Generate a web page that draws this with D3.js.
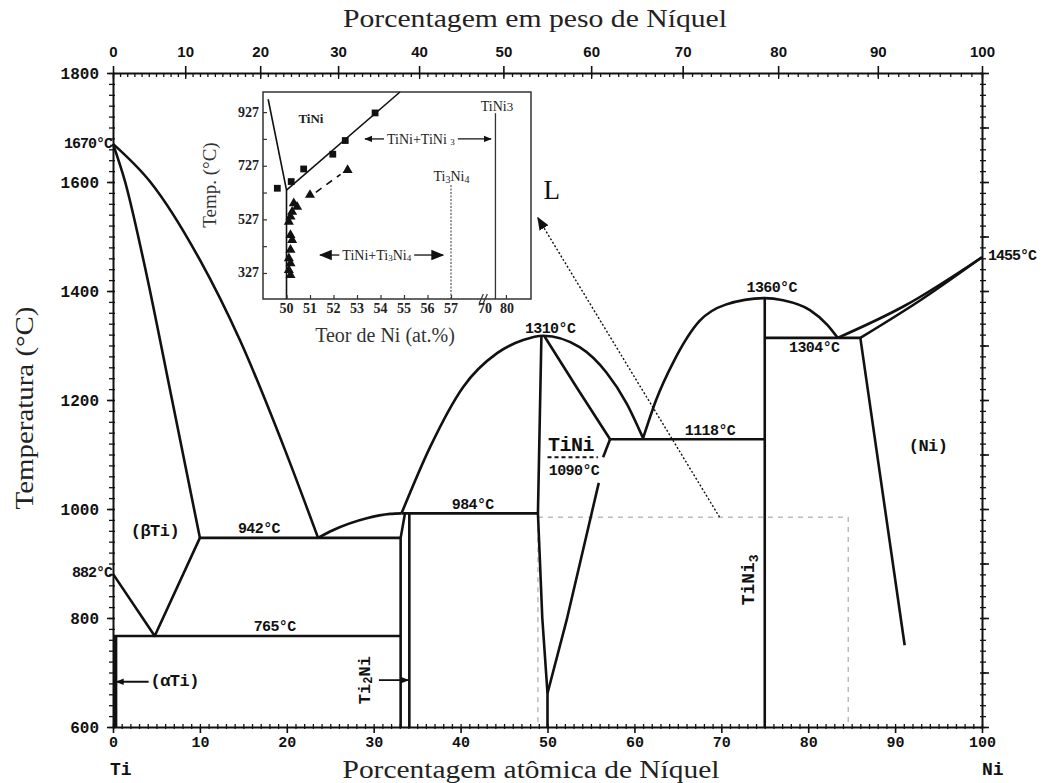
<!DOCTYPE html>
<html>
<head>
<meta charset="utf-8">
<script src="https://cdn.jsdelivr.net/npm/d3@7"></script>
<style>
body { margin: 0; background: #fff; }
svg { display: block; }
</style>
</head>
<body>
<div id="chart"></div>
<script>
"use strict";

// ---- phase boundaries, points are [at.% Ni, temperature degC] ----
var liqTi = [[0,1670],[4.3,1600],[10,1457],[14.6,1310],[19.8,1108],[23.6,947]];
var solBeta = [[0,1670],[1.4,1600],[3.5,1457],[6.8,1200],[10,947]];
var transus = [[0,881],[4.8,767],[10,947]];
var eut942 = [[10,947],[33.1,947]];
var eutd765 = [[0,767],[33.1,767]];
var alphaTi = [[0.3,767],[0.3,600]];
var liqTi2Ni = [[23.6,947],[25.3,961],[29.2,983],[31.9,991],[33.2,992]];
var ti2NiLeft = [[33.1,600],[33.1,947],[33.6,992]];
var ti2NiRight = [[34.1,600],[34.1,992]];
var per984 = [[33.2,992],[48.9,992]];
// TiNi liquidus dome, both branches
var liqTiNi = [[33.2,992],[36.5,1114],[40.3,1224],[44.2,1286],[47.2,1310],[49.5,1318],
	[53.7,1297],[56.8,1250],[59.1,1194],[61,1130]];
var solTiNiR = [[49.6,1318],[53.4,1222],[57.2,1128]];
var solvTiNiR1 = [[57.2,1128],[56.4,1095]];
var solvTiNiR2 = [[55.9,1048],[52.2,796],[50,662]];
var solvTiNiL = [[49.3,1318],[48.9,992],[49.4,800],[50,662],[50,600]];
var eut1118 = [[57.2,1128],[75,1128]];
// TiNi3 liquidus dome
var liqTiNi3 = [[61,1130],[62.5,1200],[64.5,1270],[67.5,1345],[70.5,1375],[75,1387],
	[77.1,1383],[80.2,1365],[82.2,1338],[83.4,1314]];
var tiNi3Line = [[75,1387],[75,600]];
var per1304 = [[75,1314],[86,1314]];
var solvNi = [[86,1314],[91.1,750]];
var liqNi = [[83.4,1314],[91,1372],[100,1462]];
var solNi = [[86,1314],[93,1384],[100,1462]];
var tiNiOrder = [[50,1095],[55.8,1095]];
var boxDash = [[48.9,985],[84.6,985],[84.6,600]];
var boxDashL = [[48.9,985],[48.9,600]];
var zoomArrow = [[69.8,985],[48.9,1534]];

var smoothLines = [liqTi, solBeta, liqTi2Ni, liqTiNi, solTiNiR, liqTiNi3, liqNi, solNi];
var straightLines = [transus, eut942, eutd765, ti2NiLeft, ti2NiRight, per984, solvTiNiR1,
	solvTiNiR2, solvTiNiL, eut1118, tiNi3Line, per1304, solvNi];

// ---- axis ticks ----
var atMajor = d3.range(0, 101, 10);
var atMinor = d3.range(0, 101, 1);
var wtMajor = d3.range(0, 101, 10);
var wtMinor = d3.range(0, 101, 1);
var tMajor = d3.range(600, 1801, 200);
var tMid = d3.range(600, 1801, 100);
var tMinor = d3.range(600, 1801, 20);

// ---- labels, [text, at.% Ni, degC] ----
var tempLabels = [
	["942°C", 16.8, 963], ["765°C", 18.6, 783], ["984°C", 41.4, 1006],
	["1310°C", 50.3, 1330], ["1090°C", 53.05, 1068], ["1118°C", 68.7, 1143],
	["1360°C", 75.8, 1405], ["1304°C", 80.7, 1295]
];
var phaseLabels = [["(βTi)", 4.83, 958], ["(Ni)", 93.8, 1114], ["(αTi)", 7.1, 683]];
var sideLabels = [["1670°C", 1668], ["882°C", 881]];

// ---- inset (TiNi detail) ----
var inXTicks = [50, 51, 52, 53, 54, 55, 56, 57, 70, 80];
var inYTicks = [327, 527, 727, 927];
var inYMinor = d3.range(327, 928, 100);
var inBound = [[49.22,975],[50,636],[50,230]];
var inSolvus = [[50,636],[54.83,1002]];
var inDash = [[51.25,628],[52.3,695]];
var inTi3Ni4 = [[57,230],[57,655]];
var inTiNi3 = [[75,230],[75,923]];
var squares = [[49.61,643],[50.2,668],[50.73,715],[51.97,770],[52.5,821],[53.77,924]];
var triangles = [[52.6,711],[51.0,618],[50.31,587],[50.45,574],[50.24,555],[50.17,537],[50.1,518],
	[50.17,468],[50.24,450],[50.17,413],[50.1,382],[50.17,363],[50.1,338],[50.17,319]];

var W = 1051, H = 783;
var ink = "#111";
var mono = "'Liberation Mono', 'DejaVu Sans Mono', monospace";
var serif = "'Liberation Serif', 'DejaVu Serif', serif";

var x = d3.scaleLinear().domain([0, 100]).range([113, 982]);
var y = d3.scaleLinear().domain([600, 1800]).range([727, 73]);
// inset has a broken x axis (57 // 70)
var ix = d3.scaleLinear().domain([49, 57, 70, 92]).range([263, 451, 485, 531]);
var iy = d3.scaleLinear().domain([230, 1002]).range([299, 92]);

// weight % -> atomic % Ni (Ti 47.87, Ni 58.69)
function wt2at(w) {
	var a = w / 58.69, b = (100 - w) / 47.87;
	return 100 * a / (a + b);
}

var svg = d3.select("#chart").append("svg").attr("width", W).attr("height", H);
svg.append("rect").attr("width", W).attr("height", H).attr("fill", "#fff");

var defs = svg.append("defs");
function marker(id, size) {
	defs.append("marker").attr("id", id)
		.attr("viewBox", "0 0 10 10").attr("refX", 9).attr("refY", 5)
		.attr("markerWidth", size).attr("markerHeight", size)
		.attr("markerUnits", "userSpaceOnUse").attr("orient", "auto")
		.append("path").attr("d", "M0,1L10,5L0,9z").attr("fill", ink);
}
marker("ah", 8);
marker("ahBig", 13);

var lineS = d3.line().x(d => x(d[0])).y(d => y(d[1]));
var lineC = d3.line().curve(d3.curveMonotoneX).x(d => x(d[0])).y(d => y(d[1]));

// light dashed frame around the zoomed region + dotted pointer
svg.append("path").attr("d", lineS(boxDash)).attr("fill", "none")
	.attr("stroke", "#999").attr("stroke-width", 1).attr("stroke-dasharray", "5,5");
svg.append("path").attr("d", lineS(boxDashL)).attr("fill", "none")
	.attr("stroke", "#999").attr("stroke-width", 1).attr("stroke-dasharray", "5,5");
svg.append("path").attr("d", lineS(zoomArrow)).attr("fill", "none")
	.attr("stroke", ink).attr("stroke-width", 1.4).attr("stroke-dasharray", "2,2")
	.attr("marker-end", "url(#ahBig)");

var phase = svg.append("g").attr("fill", "none").attr("stroke", ink)
	.attr("stroke-width", 2.6).attr("stroke-linejoin", "round");
phase.selectAll(".c").data(smoothLines).enter().append("path").attr("d", lineC);
phase.selectAll(".s").data(straightLines).enter().append("path").attr("d", lineS);
phase.append("path").attr("d", lineS(alphaTi)).attr("stroke-width", 3.5);
phase.append("path").attr("d", lineS(tiNiOrder)).attr("stroke-width", 2).attr("stroke-dasharray", "4,3");

// ---- axes ----
function styleAxis(g, size, family) {
	g.attr("font-family", family || mono).attr("font-weight", "bold").attr("font-size", size);
	g.selectAll("line").attr("stroke", ink).attr("stroke-width", 1.6);
	g.selectAll(".domain").attr("stroke", ink).attr("stroke-width", 2);
	g.selectAll("text").attr("fill", ink).attr("font-weight", "bold");
}
function ticksOnly(g) {
	g.select(".domain").remove();
	g.selectAll("line").attr("stroke", ink).attr("stroke-width", 1.3);
}

var gB = svg.append("g").attr("transform", "translate(0," + y(600) + ")")
	.call(d3.axisBottom(x).tickValues(atMajor).tickSize(6).tickSizeOuter(0).tickPadding(3)
		.tickFormat(d3.format("d")));
styleAxis(gB, 15);
svg.append("g").attr("transform", "translate(0," + y(600) + ")")
	.call(d3.axisTop(x).tickValues(atMinor).tickSize(3).tickFormat("")).call(ticksOnly);
svg.append("g").attr("transform", "translate(0," + y(600) + ")")
	.call(d3.axisBottom(x).tickValues(atMinor).tickSize(2).tickFormat("")).call(ticksOnly);

var gT = svg.append("g").attr("transform", "translate(0," + y(1800) + ")")
	.call(d3.axisTop(x).tickValues(wtMajor.map(wt2at)).tickSize(7).tickSizeOuter(0).tickPadding(9)
		.tickFormat((d, i) => wtMajor[i]));
styleAxis(gT, 15, "'Liberation Sans', Arial, sans-serif");
svg.append("g").attr("transform", "translate(0," + y(1800) + ")")
	.call(d3.axisBottom(x).tickValues(wtMajor.map(wt2at)).tickSize(6).tickFormat("")).call(ticksOnly);
svg.append("g").attr("transform", "translate(0," + y(1800) + ")")
	.call(d3.axisBottom(x).tickValues(wtMinor.map(wt2at)).tickSize(4).tickFormat("")).call(ticksOnly);

var gL = svg.append("g").attr("transform", "translate(" + x(0) + ",0)")
	.call(d3.axisLeft(y).tickValues(tMajor).tickSize(6).tickSizeOuter(0).tickPadding(8)
		.tickFormat(d3.format("d")));
styleAxis(gL, 16);
svg.append("g").attr("transform", "translate(" + x(0) + ",0)")
	.call(d3.axisLeft(y).tickValues(tMinor).tickSize(4).tickFormat("")).call(ticksOnly);
svg.append("g").attr("transform", "translate(" + x(0) + ",0)")
	.call(d3.axisRight(y).tickValues(tMinor).tickSize(2).tickFormat("")).call(ticksOnly);

var gR = svg.append("g").attr("transform", "translate(" + x(100) + ",0)")
	.call(d3.axisRight(y).tickValues(tMid).tickSize(7).tickSizeOuter(0).tickFormat(""));
styleAxis(gR, 16);
svg.append("g").attr("transform", "translate(" + x(100) + ",0)")
	.call(d3.axisRight(y).tickValues(tMinor).tickSize(4).tickFormat("")).call(ticksOnly);
svg.append("g").attr("transform", "translate(" + x(100) + ",0)")
	.call(d3.axisLeft(y).tickValues(tMinor).tickSize(2).tickFormat("")).call(ticksOnly);

// axis titles
svg.append("text").attr("x", 535).attr("y", 27).attr("text-anchor", "middle")
	.attr("font-family", serif).attr("font-size", 26).attr("fill", "#222")
	.attr("textLength", 384).attr("lengthAdjust", "spacingAndGlyphs")
	.text("Porcentagem em peso de Níquel");
svg.append("text").attr("x", 531).attr("y", 778).attr("text-anchor", "middle")
	.attr("font-family", serif).attr("font-size", 25).attr("fill", "#222")
	.attr("textLength", 377).attr("lengthAdjust", "spacingAndGlyphs")
	.text("Porcentagem atômica de Níquel");
svg.append("text").attr("transform", "translate(33,408) rotate(-90)").attr("text-anchor", "middle")
	.attr("font-family", serif).attr("font-size", 26).attr("fill", "#222")
	.attr("textLength", 203).attr("lengthAdjust", "spacingAndGlyphs")
	.text("Temperatura (°C)");
svg.append("text").attr("x", x(0) - 3).attr("y", 775)
	.attr("font-family", mono).attr("font-weight", "bold").attr("font-size", 18).attr("fill", ink).text("Ti");
svg.append("text").attr("x", x(100)).attr("y", 775)
	.attr("font-family", mono).attr("font-weight", "bold").attr("font-size", 18).attr("fill", ink).text("Ni");

// ---- annotations on main diagram ----
var ann = svg.append("g").attr("font-family", mono).attr("font-weight", "bold").attr("fill", ink)
	.attr("dominant-baseline", "central");
ann.selectAll(".tl").data(tempLabels).enter().append("text")
	.attr("x", d => x(d[1])).attr("y", d => y(d[2])).attr("text-anchor", "middle")
	.attr("font-size", 15).attr("letter-spacing", -0.6).text(d => d[0]);
ann.selectAll(".pl").data(phaseLabels).enter().append("text")
	.attr("x", d => x(d[1])).attr("y", d => y(d[2])).attr("text-anchor", "middle")
	.attr("font-size", 17).attr("letter-spacing", -0.5).text(d => d[0]);
ann.selectAll(".sl").data(sideLabels).enter().append("text")
	.attr("x", x(0) - 1).attr("y", d => y(d[1])).attr("text-anchor", "end")
	.attr("font-size", 15).attr("letter-spacing", -1).text(d => d[0]);
ann.append("text").attr("x", x(100.7)).attr("y", y(1464)).attr("font-size", 15)
	.attr("letter-spacing", -1).text("1455°C");
ann.append("text").attr("x", x(52.7)).attr("y", y(1117)).attr("text-anchor", "middle")
	.attr("font-size", 20).attr("letter-spacing", -0.5).text("TiNi");
ann.append("text").attr("x", x(50.5)).attr("y", y(1585)).attr("text-anchor", "middle")
	.attr("font-family", serif).attr("font-weight", "normal").attr("font-size", 27).text("L");

// rotated compound labels
var t2 = ann.append("text").attr("transform", "translate(" + x(29.0) + "," + y(686) + ") rotate(-90)")
	.attr("text-anchor", "middle").attr("font-size", 17);
t2.append("tspan").text("Ti");
t2.append("tspan").attr("font-size", 12).attr("dy", 4).text("2");
t2.append("tspan").attr("dy", -4).text("Ni");
var t3 = ann.append("text").attr("transform", "translate(" + x(73.2) + "," + y(870) + ") rotate(-90)")
	.attr("text-anchor", "middle").attr("font-size", 18);
t3.append("tspan").text("TiNi");
t3.append("tspan").attr("font-size", 13).attr("dy", 5).text("3");

// small arrows to the narrow phases
svg.append("line").attr("x1", x(4.1)).attr("x2", x(0.4)).attr("y1", y(683)).attr("y2", y(683))
	.attr("stroke", ink).attr("stroke-width", 1.8).attr("marker-end", "url(#ah)");
svg.append("line").attr("x1", x(30.6)).attr("x2", x(34.0)).attr("y1", y(686)).attr("y2", y(686))
	.attr("stroke", ink).attr("stroke-width", 1.8).attr("marker-end", "url(#ah)");

// ---- inset ----
var inset = svg.append("g");
inset.append("rect").attr("x", ix(49)).attr("y", iy(1002))
	.attr("width", ix(92) - ix(49)).attr("height", iy(230) - iy(1002))
	.attr("fill", "#fff").attr("stroke", "#333").attr("stroke-width", 1.5);

var iline = d3.line().x(d => ix(d[0])).y(d => iy(d[1]));
inset.append("path").attr("d", iline(inBound)).attr("fill", "none").attr("stroke", ink).attr("stroke-width", 1.6);
inset.append("path").attr("d", iline(inSolvus)).attr("fill", "none").attr("stroke", ink).attr("stroke-width", 1.6);
inset.append("path").attr("d", iline(inDash)).attr("fill", "none").attr("stroke", ink)
	.attr("stroke-width", 1.6).attr("stroke-dasharray", "7,6");
inset.append("path").attr("d", iline(inTi3Ni4)).attr("fill", "none").attr("stroke", "#555")
	.attr("stroke-width", 1.2).attr("stroke-dasharray", "2,1.5");
inset.append("path").attr("d", iline(inTiNi3)).attr("fill", "none").attr("stroke", "#333").attr("stroke-width", 1.3);

inset.selectAll(".sq").data(squares).enter().append("path")
	.attr("d", d3.symbol(d3.symbolSquare, 46))
	.attr("transform", d => "translate(" + ix(d[0]) + "," + iy(d[1]) + ")").attr("fill", ink);
inset.selectAll(".tr").data(triangles).enter().append("path")
	.attr("d", d3.symbol(d3.symbolTriangle, 44))
	.attr("transform", d => "translate(" + ix(d[0]) + "," + iy(d[1]) + ")").attr("fill", ink);

// inset axes
var giB = inset.append("g").attr("transform", "translate(0," + iy(230) + ")")
	.call(d3.axisTop(ix).tickValues(inXTicks.filter(d => d != 70)).tickSize(4).tickFormat(""));
giB.select(".domain").remove();
giB.selectAll("line").attr("stroke", "#333").attr("stroke-width", 1.2);
inset.append("g").attr("font-family", serif).attr("font-weight", "bold").attr("font-size", 14)
	.attr("fill", "#222").attr("text-anchor", "middle")
	.selectAll("text").data(inXTicks).enter().append("text")
	.attr("x", d => ix(d) + (d == 80 ? 1 : 0)).attr("y", iy(230) + 14).text(d => d);
var giL = inset.append("g").attr("transform", "translate(" + ix(49) + ",0)")
	.call(d3.axisRight(iy).tickValues(inYMinor).tickSize(4).tickFormat(""));
giL.select(".domain").remove();
giL.selectAll("line").attr("stroke", "#333").attr("stroke-width", 1.2);
inset.append("g").attr("font-family", serif).attr("font-weight", "bold").attr("font-size", 14)
	.attr("fill", "#222").attr("text-anchor", "end").attr("dominant-baseline", "central")
	.selectAll("text").data(inYTicks).enter().append("text")
	.attr("x", ix(49) - 4).attr("y", d => iy(d)).text(d => d);

// axis break
[0, 4].forEach(function (o) {
	inset.append("line").attr("x1", ix(68.6) + o - 2).attr("x2", ix(68.6) + o + 2)
		.attr("y1", iy(230) + 4).attr("y2", iy(230) - 5).attr("stroke", "#333").attr("stroke-width", 1.2);
});

inset.append("text").attr("x", (ix(49) + ix(92)) / 2 - 12).attr("y", iy(230) + 43)
	.attr("text-anchor", "middle").attr("font-family", serif).attr("font-size", 20).attr("fill", "#333")
	.text("Teor de Ni (at.%)");
inset.append("text").attr("transform", "translate(" + (ix(49) - 47) + "," + iy(655) + ") rotate(-90)")
	.attr("text-anchor", "middle").attr("font-family", serif).attr("font-size", 19).attr("fill", "#333")
	.text("Temp. (°C)");

var il = inset.append("g").attr("font-family", serif).attr("fill", "#222").attr("dominant-baseline", "central");
il.append("text").attr("x", ix(51.04)).attr("y", iy(905)).attr("text-anchor", "middle")
	.attr("font-weight", "bold").attr("font-size", 13).text("TiNi");
var l1 = il.append("text").attr("x", ix(57.2)).attr("y", iy(689)).attr("text-anchor", "middle").attr("font-size", 14);
l1.append("tspan").text("Ti");
l1.append("tspan").attr("font-size", 10).attr("dy", 3).text("3");
l1.append("tspan").attr("dy", -3).text("Ni");
l1.append("tspan").attr("font-size", 10).attr("dy", 3).text("4");
var l2 = il.append("text").attr("x", ix(75.7)).attr("y", iy(950)).attr("text-anchor", "middle").attr("font-size", 14);
l2.append("tspan").text("TiNi");
l2.append("tspan").attr("font-size", 13).text("3");

// two-phase field labels with arrows
function fieldLabel(cx, t, left, right, parts, small) {
	var g = il.append("g");
	var txt = g.append("text").attr("x", ix(cx)).attr("y", iy(t)).attr("text-anchor", "middle").attr("font-size", 14);
	parts.forEach(function (p) {
		var s = txt.append("tspan").text(p[0]);
		if (p[1]) s.attr("font-size", 9).attr("dy", 3);
		else if (p[2]) s.attr("dy", -3);
	});
	var len = txt.node().getComputedTextLength();
	var x0 = ix(cx) - len / 2 - 3, x1 = ix(cx) + len / 2 + 3;
	var mk = small ? "url(#ah)" : "url(#ahBig)";
	g.append("line").attr("x1", x0).attr("x2", ix(left)).attr("y1", iy(t)).attr("y2", iy(t))
		.attr("stroke", ink).attr("stroke-width", 1.3).attr("marker-end", mk);
	g.append("line").attr("x1", x1).attr("x2", ix(right)).attr("y1", iy(t)).attr("y2", iy(t))
		.attr("stroke", ink).attr("stroke-width", 1.3).attr("marker-end", mk);
}
fieldLabel(55.72, 827, 53.34, 72.9, [["TiNi+TiNi "], ["3", true]], true);
fieldLabel(53.84, 394, 51.43, 56.66, [["TiNi+Ti"], ["3", true], ["Ni", false, true], ["4", true]], false);
</script>
</body>
</html>
